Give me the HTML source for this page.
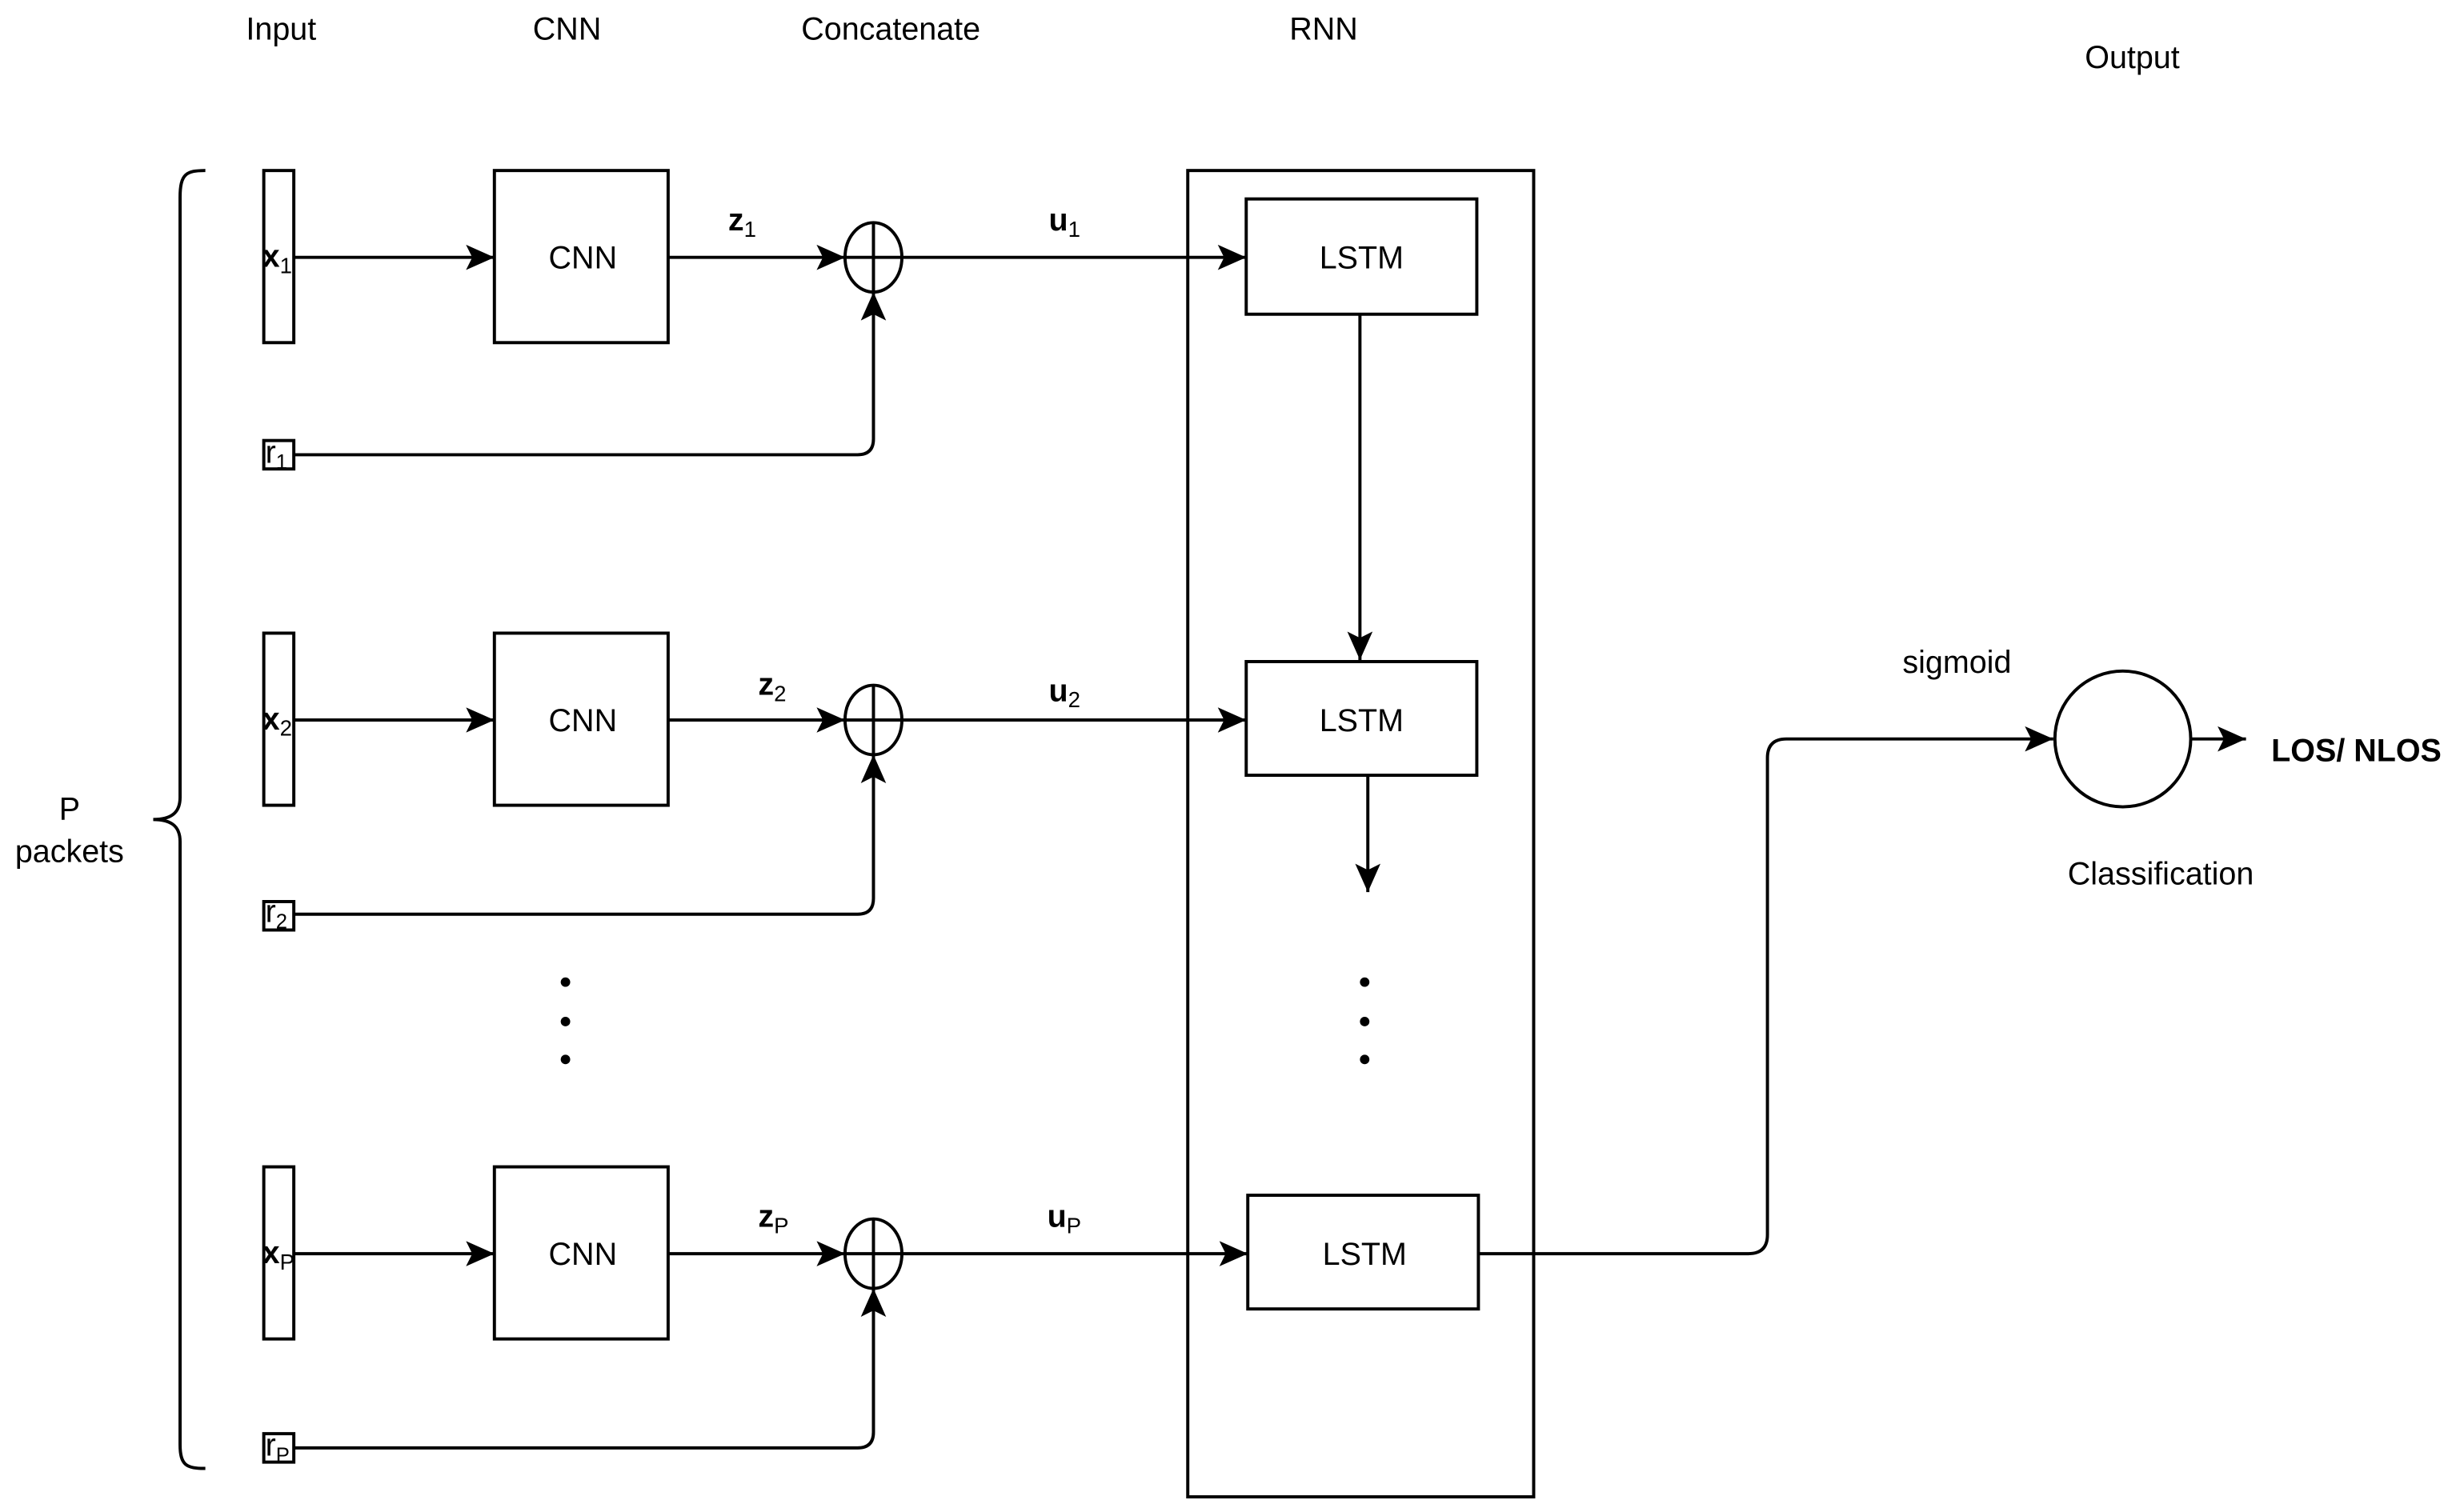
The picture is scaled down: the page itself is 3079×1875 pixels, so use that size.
<!DOCTYPE html>
<html><head><meta charset="utf-8"><style>
html,body{margin:0;padding:0;background:#fff}
svg{display:block}
text{font-family:"Liberation Sans",sans-serif;font-size:20px;fill:#000}
</style></head><body>
<svg width="3079" height="1875" viewBox="0 0 1560 950" xmlns="http://www.w3.org/2000/svg">
<defs><marker id="a" markerWidth="10" markerHeight="10" refX="9" refY="5" orient="auto" markerUnits="userSpaceOnUse"><path d="M0,0 L10,5 L0,10 L3,5 z" fill="#000"/></marker>
<marker id="b" markerWidth="20" markerHeight="20" refX="18" refY="8" orient="auto" markerUnits="userSpaceOnUse"><path d="M0,0 L18,8 L0,16 L4,8 z" fill="#000"/></marker></defs>
<g fill="none" stroke="#000" stroke-width="2">
<path d="M130,108 C118,108 114,110 114,125 L114,505 C114,515 108,519 97,519 C108,519 114,523 114,533 L114,915 C114,928 118,930 130,930"/>
<rect x="752" y="108" width="219" height="840"/>
</g>
<g font-weight="normal" text-anchor="middle">
<text x="178" y="25">Input</text><text x="359" y="25">CNN</text><text x="564" y="25">Concatenate</text><text x="838" y="25">RNN</text><text x="1350" y="43">Output</text>
<text x="44" y="519">P</text><text x="44" y="546">packets</text>
<text x="1239" y="426">sigmoid</text><text x="1368" y="560">Classification</text>
</g>
<g id="row1">
<g fill="none" stroke="#000" stroke-width="2">
<rect x="167" y="108" width="19" height="109"/><rect x="313" y="108" width="110" height="109"/>
<rect x="167" y="279" width="19" height="18"/>
<ellipse cx="553" cy="163" rx="18" ry="22"/><line x1="535" y1="163" x2="571" y2="163"/><line x1="553" y1="141" x2="553" y2="185"/>
<line x1="186" y1="163" x2="313" y2="163" marker-end="url(#b)"/>
<line x1="423" y1="163" x2="535" y2="163" marker-end="url(#b)"/>
<line x1="571" y1="163" x2="789" y2="163" marker-end="url(#b)"/>
<path d="M186,288 L543,288 Q553,288 553,278 L553,185" marker-end="url(#b)"/>
</g>
<text x="166" y="169" font-weight="bold">x<tspan font-size="14" font-weight="normal" dy="4">1</tspan></text>
<text x="168" y="293" font-size="18">r<tspan font-size="13" dy="4">1</tspan></text>
<text x="369" y="170" text-anchor="middle">CNN</text>
<text x="461" y="146" font-weight="bold">z<tspan font-size="14" font-weight="normal" dy="4">1</tspan></text>
<text x="664" y="146" font-weight="bold">u<tspan font-size="14" font-weight="normal" dy="4">1</tspan></text>
</g>
<g fill="none" stroke="#000" stroke-width="2">
<rect x="167" y="401" width="19" height="109"/><rect x="313" y="401" width="110" height="109"/>
<rect x="167" y="571" width="19" height="18"/>
<ellipse cx="553" cy="456" rx="18" ry="22"/><line x1="535" y1="456" x2="571" y2="456"/><line x1="553" y1="434" x2="553" y2="478"/>
<line x1="186" y1="456" x2="313" y2="456" marker-end="url(#b)"/>
<line x1="423" y1="456" x2="535" y2="456" marker-end="url(#b)"/>
<line x1="571" y1="456" x2="789" y2="456" marker-end="url(#b)"/>
<path d="M186,579 L543,579 Q553,579 553,569 L553,478" marker-end="url(#b)"/>
<rect x="167" y="739" width="19" height="109"/><rect x="313" y="739" width="110" height="109"/>
<rect x="167" y="908" width="19" height="18"/>
<ellipse cx="553" cy="794" rx="18" ry="22"/><line x1="535" y1="794" x2="571" y2="794"/><line x1="553" y1="772" x2="553" y2="816"/>
<line x1="186" y1="794" x2="313" y2="794" marker-end="url(#b)"/>
<line x1="423" y1="794" x2="535" y2="794" marker-end="url(#b)"/>
<line x1="571" y1="794" x2="790" y2="794" marker-end="url(#b)"/>
<path d="M186,917 L543,917 Q553,917 553,907 L553,816" marker-end="url(#b)"/>
<rect x="789" y="126" width="146" height="73"/><rect x="789" y="419" width="146" height="72"/><rect x="790" y="757" width="146" height="72"/>
<line x1="861" y1="199" x2="861" y2="418" marker-end="url(#b)"/>
<line x1="866" y1="491" x2="866" y2="565" marker-end="url(#b)"/>
<path d="M936,794 L1107,794 Q1119,794 1119,782 L1119,480 Q1119,468 1131,468 L1300,468" marker-end="url(#b)"/>
<ellipse cx="1344" cy="468" rx="43" ry="43"/>
<line x1="1387" y1="468" x2="1422" y2="468" marker-end="url(#b)"/>
</g>
<g fill="#000"><circle cx="358" cy="622" r="3"/><circle cx="358" cy="647" r="3"/><circle cx="358" cy="671" r="3"/>
<circle cx="864" cy="622" r="3"/><circle cx="864" cy="647" r="3"/><circle cx="864" cy="671" r="3"/></g>
<text x="166" y="462" font-weight="bold">x<tspan font-size="14" font-weight="normal" dy="4">2</tspan></text>
<text x="168" y="584" font-size="18">r<tspan font-size="13" dy="4">2</tspan></text>
<text x="369" y="463" text-anchor="middle">CNN</text>
<text x="480" y="440" font-weight="bold">z<tspan font-size="14" font-weight="normal" dy="4">2</tspan></text>
<text x="664" y="444" font-weight="bold">u<tspan font-size="14" font-weight="normal" dy="4">2</tspan></text>
<text x="166" y="800" font-weight="bold">x<tspan font-size="14" font-weight="normal" dy="4">P</tspan></text>
<text x="168" y="922" font-size="18">r<tspan font-size="13" dy="4">P</tspan></text>
<text x="369" y="801" text-anchor="middle">CNN</text>
<text x="480" y="777" font-weight="bold">z<tspan font-size="14" font-weight="normal" dy="4">P</tspan></text>
<text x="663" y="777" font-weight="bold">u<tspan font-size="14" font-weight="normal" dy="4">P</tspan></text>
<text x="862" y="170" text-anchor="middle">LSTM</text>
<text x="862" y="463" text-anchor="middle">LSTM</text>
<text x="864" y="801" text-anchor="middle">LSTM</text>
<text x="1438" y="482" font-weight="bold">LOS/ NLOS</text>
</svg>
</body></html>
